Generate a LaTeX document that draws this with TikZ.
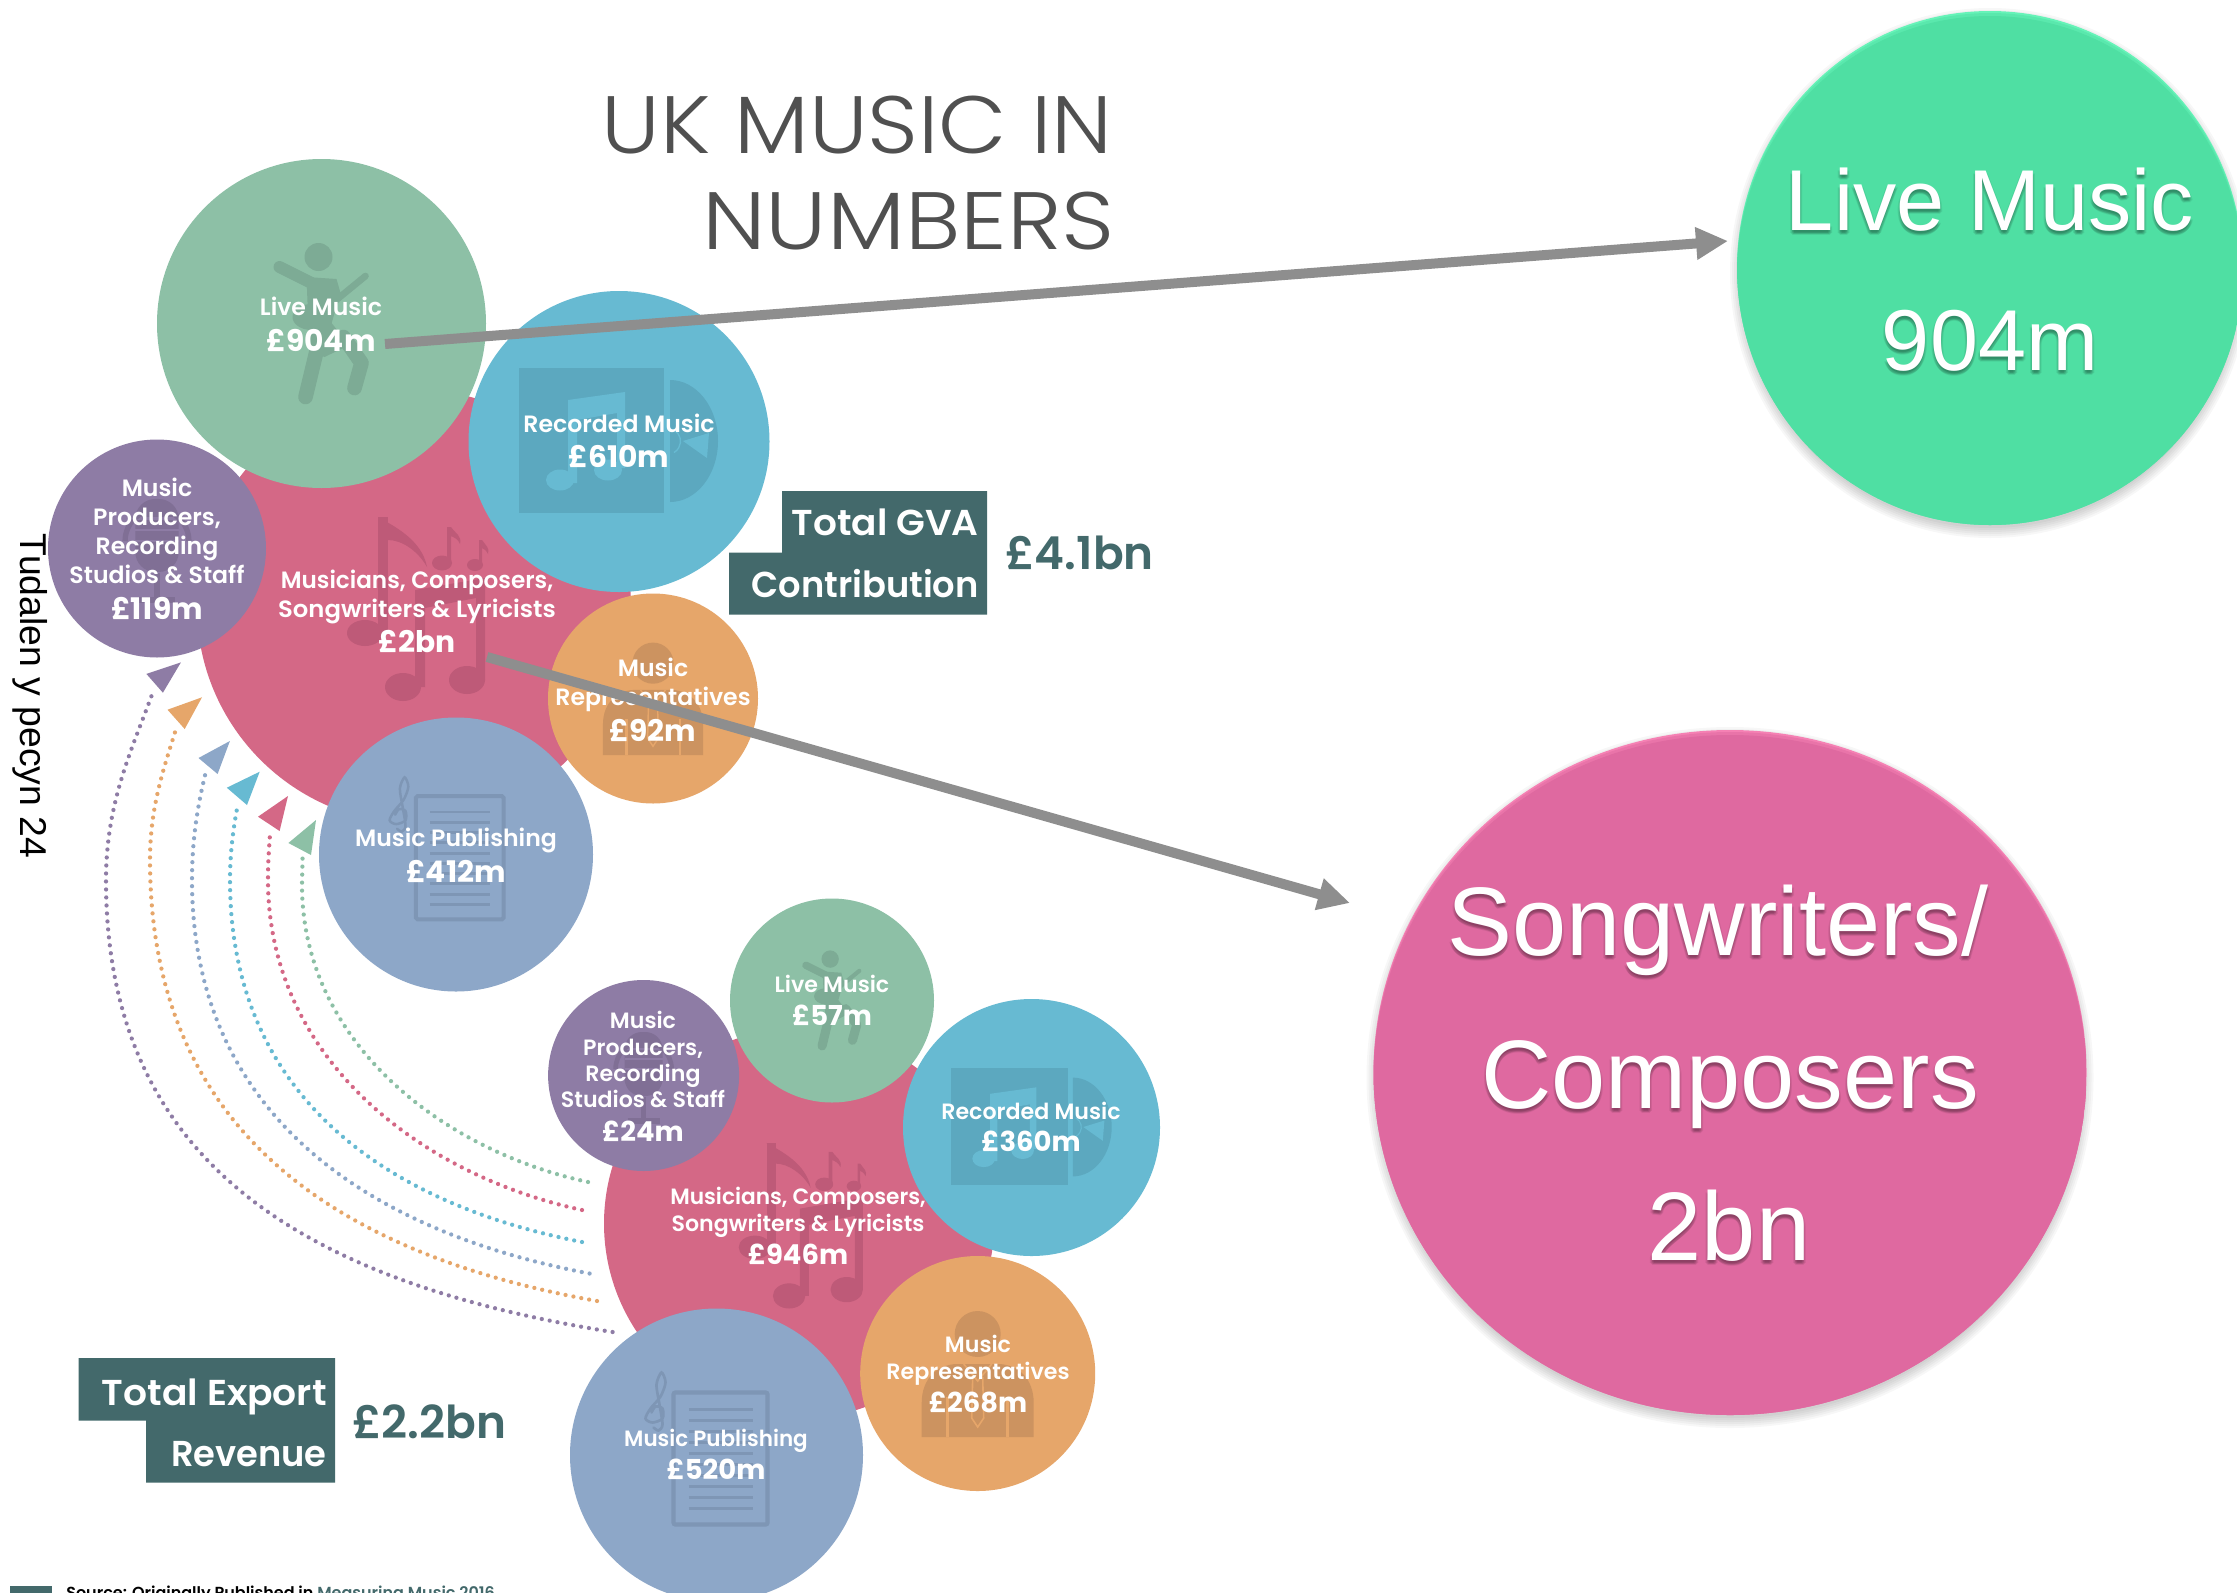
\documentclass[tikz,border=0pt]{standalone}
\usepackage{fontspec}
\usetikzlibrary{arrows.meta,shapes.geometric}
\setmainfont{Poppins}
\newfontfamily\arial{Liberation Sans}
\newfontfamily\titlef{Poppins Light}
\newfontfamily\medf{Poppins Medium}
\newfontfamily\semif{Poppins SemiBold}
\newfontfamily\boldf{Poppins Bold}
\newcommand{\fs}[1]{\fontsize{#1}{#1}\selectfont}
\definecolor{cgreen}{HTML}{8DC0A6}\definecolor{cgreenD}{HTML}{7DAB95}
\definecolor{cblue}{HTML}{67BAD2}\definecolor{cblueD}{HTML}{5CA8BF}
\definecolor{cpink}{HTML}{D46886}\definecolor{cpinkD}{HTML}{BE5A78}
\definecolor{cpurp}{HTML}{8E7CA5}\definecolor{cpurpD}{HTML}{806F95}
\definecolor{corng}{HTML}{E6A66A}\definecolor{corngD}{HTML}{CC9360}
\definecolor{cpub}{HTML}{8DA7C8}\definecolor{cpubD}{HTML}{7E96B5}
\definecolor{cteal}{HTML}{43696B}
\definecolor{cbgreen}{HTML}{4FDFA3}\definecolor{cbgreenL}{HTML}{66F3B8}
\definecolor{cbpink}{HTML}{DF69A0}\definecolor{cbpinkL}{HTML}{F581B4}
\definecolor{cgrayA}{HTML}{8E8E8E}
\definecolor{ctitle}{HTML}{505050}
\tikzset{
 bub/.style n args={2}{circle,fill=#1,minimum size=2*#2*0.75pt,inner sep=0pt},
 lab/.style={anchor=base,text=white,inner sep=0pt,align=center},
 regA/.style={lab,font=\semif\fs{17.7}},
 boldA/.style={lab,font=\boldf\fs{22.3}},
 regB/.style={lab,font=\semif\fs{16.6}},
 boldB/.style={lab,font=\boldf\fs{20.6}},
 boxlab/.style={anchor=base east,text=white,inner sep=0pt,font=\semif\fs{27}},
 sumlab/.style={anchor=base west,text=cteal,inner sep=0pt,font=\semif\fs{34}},
 titlelab/.style={anchor=base east,text=ctitle,inner sep=0pt,font=\titlef\fs{61}},
 bigarrow/.style={draw=cgrayA,line width=7.5pt,-{Triangle[length=24pt,width=23pt]}},
 dots/.style={line width=3.2pt,line cap=round,dash pattern=on 0pt off 6pt},
}
% person with guitar
\newcommand{\iconPerson}[4]{\begin{scope}[shift={(#1,#2)},scale=#3,line cap=round,line join=round,draw=#4,fill=#4]
 \fill (-3,-66) circle[radius=14];
 \draw[line width=#3*9pt] (-42,-56) -- (-10,-40);
 \fill (-15,-46) -- (15,-44) -- (19,-30) -- (9,4) -- (-13,4) -- cycle;
 \fill (-13,0) -- (10,0) -- (28,22) -- (3,34) -- (-10,28) -- cycle;
 \draw[line width=#3*11pt] (-3,20) -- (-16,74);
 \draw[line width=#3*11pt] (22,14) -- (40,40) -- (33,65);
 \draw[line width=#3*5pt] (-6,-6) -- (44,-47);
 \fill (-10,-6) ellipse[x radius=19,y radius=13];
\end{scope}}
% album and disc
\newcommand{\iconAlbum}[5]{\begin{scope}[shift={(#1,#2)},scale=#3]
 \fill[#4] (-100,-73) rectangle (45,72);
 \fill[#4] (51,-61) arc[start angle=-90,end angle=90,x radius=48,y radius=61] -- cycle;
 \fill[#5] (-51,-41) -- (6,-49) -- (6,27) -- (-2,27) -- (-2,-28) -- (-42,-21) -- (-42,42) -- (-51,42) -- cycle;
 \fill[#5] (-59,39) ellipse[x radius=14,y radius=10.5];
 \fill[#5] (-11,29) ellipse[x radius=14,y radius=10.5];
 \fill[#5] (64,0) -- (90,-8) -- (88,17) -- cycle;
 \draw[#5,line width=#3*1pt] (55,-11) arc[start angle=-60,end angle=60,radius=13];
\end{scope}}
% notes
\newcommand{\iconNotes}[4]{\begin{scope}[shift={(#1,#2)},scale=#3,fill=#4]
 \fill (-49,27) ellipse[x radius=18,y radius=13];
 \fill (-36,-89) rectangle (-26,27);
 \fill (-36,-89) .. controls (-20,-80) and (8,-66) .. (13,-39) .. controls (4,-55) and (-12,-66) .. (-26,-66) -- cycle;
 \fill (-11,81) ellipse[x radius=18,y radius=14];
 \fill (53,74) ellipse[x radius=18,y radius=14];
 \fill (1,-16) -- (71,-28) -- (71,74) -- (62,74) -- (62,-8) -- (11,2) -- (11,81) -- (1,81) -- cycle;
 \fill (28,-43) ellipse[x radius=10,y radius=7.5];
 \fill (33,-79) -- (37,-79) .. controls (42,-72) and (48,-70) .. (46,-62) .. controls (44,-67) and (41,-68) .. (37,-70) -- (37,-43) -- (33,-43) -- cycle;
 \fill (61,-41) ellipse[x radius=8,y radius=6];
 \fill (65,-66) -- (68,-66) .. controls (72,-60) and (76,-58) .. (74,-52) .. controls (72,-56) and (70,-57) .. (68,-58) -- (68,-41) -- (65,-41) -- cycle;
\end{scope}}
% microphone
\newcommand{\iconMic}[5]{\begin{scope}[shift={(#1,#2)},scale=#3]
 \fill[#4,rounded corners=#3*13pt] (-19,-43) rectangle (19,21);
 \foreach \yy in {-26,-16,-6}{\draw[#5,line width=#3*1.5pt] (-19,\yy) -- (19,\yy);}
 \draw[#4,line width=#3*3.5pt] (-28,-6) arc[start angle=180,end angle=360,radius=28];
 \draw[#4,line width=#3*4pt] (0,22) -- (0,45) (-16,46) -- (16,46);
\end{scope}}
% representative
\newcommand{\iconRep}[5]{\begin{scope}[shift={(#1,#2)},scale=#3]
 \fill[#4] (0,-39) circle[radius=23];
 \fill[#4] (-56,64) -- (-56,30) .. controls (-56,5) and (-40,-8) .. (-22,-9) -- (22,-9) .. controls (40,-8) and (56,5) .. (56,30) -- (56,64) -- cycle;
 \draw[#5,line width=#3*2.2pt] (-30,24) -- (-30,64) (30,24) -- (30,64);
 \draw[#5,line width=#3*1.2pt] (-14,-9) -- (0,8) -- (14,-9);
 \draw[#5,line width=#3*1.2pt] (-5,4) -- (-6,45) -- (0,54) -- (6,45) -- (5,4);
\end{scope}}
% sheet with clef
\newcommand{\iconSheet}[4]{\begin{scope}[shift={(#1,#2)},scale=#3]
 \draw[#4,line width=#3*3.2pt,rounded corners=#3*1.5pt] (-43,-62) rectangle (51,70);
 \foreach \yy in {-45,-34,-23,-12,-1,10,21,32,43,54}{\draw[#4,line width=#3*2.3pt] (-28,\yy) -- (36,\yy);}
 \draw[#4,line width=#3*2pt,line cap=round] plot[smooth] coordinates {(-63,-27) (-58,-24) (-54,-30) (-57,-50) (-60,-70) (-55,-82) (-51,-72) (-56,-58) (-66,-46) (-71,-36) (-64,-32) (-54,-36) (-54,-46) (-61,-48) (-65,-42)};
\end{scope}}
% big bubble with soft shadow and light rim
\newcommand{\bigBubble}[7]{%
 \foreach \ii in {0,2,4,6,8,10}{\fill[black,opacity=.03] (#2,#3+5) ellipse[x radius=#4+\ii-3,y radius=#5+\ii-2];}
 \node[ellipse,fill=#7,minimum width=2*#4*0.75pt,minimum height=2*#5*0.75pt,inner sep=0pt] (#1) at (#2,#3) {};
 \begin{scope}
 \clip (#2,#3) ellipse[x radius=#4,y radius=#5];
 \fill[#6,opacity=.5] (#2,#3+2) ellipse[x radius=#4,y radius=#5];
 \fill[#6] (#2,#3+5) ellipse[x radius=#4,y radius=#5];
 \end{scope}}
% big white text with soft shadow
\newcommand{\bigText}[5]{%
 \foreach \ox/\oy in {-1/4,1/4,0/2,0/5,-2/3,2/3}{\node[anchor=base,inner sep=0pt,text=black,text opacity=.07,font=\arial\fs{#4}] at (#2+\ox,#3+\oy) {#5};}
 \node[anchor=base,inner sep=0pt,text=white,font=\arial\fs{#4}] (#1) at (#2,#3) {#5};}
\begin{document}
\begin{tikzpicture}[x=0.75pt,y=-0.75pt]
\useasboundingbox (0,0) rectangle (2237,1592);
\clip (0,0) rectangle (2237,1592);
\fill[white] (0,0) rectangle (2237,1592);
% title
\node[titlelab] (t1) at (1113,153) {\scalebox{1.09}[1]{UK MUSIC IN}};
\node[titlelab] (t2) at (1115,249) {\scalebox{1.14}[1]{NUMBERS}};
% side text
\node[rotate=-90,inner sep=0pt,text=black,font=\arial\fs{28}] (side) at (30,696) {Tudalen y pecyn 24};
% upper group
\node[bub={cpink}{217}] (pA) at (414,606.5) {};
\iconNotes{414}{606}{1}{cpinkD}
\node[bub={cgreen}{164.5}] (lA) at (321.5,323.5) {};
\iconPerson{321.5}{323}{1}{cgreenD}
\node[bub={cblue}{150.5}] (rA) at (619,441.5) {};
\iconAlbum{619}{441}{1}{cblueD}{cblue}
\node[bub={cpurp}{109}] (mA) at (157,548.5) {};
\iconMic{157}{548}{1.14}{cpurpD}{cpurp}
\node[bub={corng}{105}] (oA) at (653,698.5) {};
\iconRep{653}{698}{.894}{corngD}{corng}
\node[bub={cpub}{137}] (bA) at (456,854.5) {};
\iconSheet{456}{854}{.935}{cpubD}
% upper labels
\node[regA] (l1) at (321,315) {Live Music};
\node[boldA] (l2) at (321,351) {£904m};
\node[regA] (r1) at (619,432) {Recorded Music};
\node[boldA] (r2) at (619,467.5) {£610m};
\node[regA] (p1) at (417,588) {\scalebox{.98}[1]{Musicians, Composers,}};
\node[regA] (p2) at (417,617) {\scalebox{1.03}[1]{Songwriters \& Lyricists}};
\node[boldA] (p3) at (417,652) {£2bn};
\node[regA] (m1) at (157,496) {Music};
\node[regA] (m2) at (157,525) {Producers,};
\node[regA] (m3) at (157,554) {Recording};
\node[regA] (m4) at (157,583) {Studios \& Staff};
\node[boldA] (m5) at (157,619) {£119m};
\node[regA] (o1) at (653,676) {Music};
\node[regA] (o2) at (653,705) {Representatives};
\node[boldA] (o3) at (653,741) {£92m};
\node[regA] (b1) at (456,846) {Music Publishing};
\node[boldA] (b2) at (456,882) {£412m};
% GVA box
\path[fill=cteal] (782,491) -- (987,491) -- (987,614.5) -- (729,614.5) -- (729,552.5) -- (782,552.5) -- cycle;
\node[boxlab] (g1) at (979,535) {\scalebox{1.04}[1]{Total GVA}};
\node[boxlab] (g2) at (979,597) {\scalebox{.98}[1]{Contribution}};
\node[sumlab] (g3) at (1005,569.5) {£4.1bn};
% dotted arcs
\coordinate (gs) at (588,1182); \coordinate (gm) at (302,885); \coordinate (ge) at (302.6,856);
\coordinate (ps) at (582,1210); \coordinate (pm) at (268,880); \coordinate (pe) at (270,834);
\coordinate (cs) at (582,1242); \coordinate (cm) at (230,880); \coordinate (ce) at (237.5,806);
\coordinate (vs) at (589.6,1273.5); \coordinate (vm) at (192,880); \coordinate (ve) at (205.8,772);
\coordinate (os) at (597,1301); \coordinate (om) at (150,860); \coordinate (oe) at (176.3,728);
\coordinate (us) at (612.6,1332); \coordinate (um) at (106,880); \coordinate (ue) at (153.3,691);
\draw[dots,cgreen] (gs) .. controls (440,1150) and (302,1040) .. (gm) -- (ge);
\draw[dots,cpink] (ps) .. controls (416,1174) and (268,1055) .. (pm) .. controls (268,860) and (269,850) .. (pe);
\draw[dots,cblue] (cs) .. controls (378,1202) and (230,1090) .. (cm) .. controls (230,850) and (234,825) .. (ce);
\draw[dots,cpub] (vs) .. controls (359,1230) and (192,1108) .. (vm) .. controls (192,835) and (199,800) .. (ve);
\draw[dots,corng] (os) .. controls (329,1253) and (150,1125) .. (om) .. controls (150,805) and (165,765) .. (oe);
\draw[dots,cpurp] (us) .. controls (300,1282) and (106,1160) .. (um) .. controls (106,800) and (134,745) .. (ue);
\fill[cgreen] (316,820) -- (288.4,843) -- (311,855) -- cycle;
\fill[cpink] (288,796) -- (258,816.7) -- (279.6,831) -- cycle;
\fill[cblue] (259.7,771.7) -- (226.8,787.7) -- (247,805) -- cycle;
\fill[cpub] (229.9,741) -- (198.5,758) -- (217.6,774) -- cycle;
\fill[corng] (202,697.3) -- (167.5,709.7) -- (184.7,729) -- cycle;
\fill[cpurp] (180.9,662.4) -- (146.4,673.9) -- (162.9,692.7) -- cycle;
% lower group
\node[bub={cpink}{195}] (pB) at (799,1223.5) {};
\iconNotes{799}{1223}{.9}{cpinkD}
\node[bub={cgreen}{102}] (lB) at (832,1000.5) {};
\iconPerson{832}{1000}{.62}{cgreenD}
\node[bub={cblue}{128.5}] (rB) at (1031.5,1127.5) {};
\iconAlbum{1031.5}{1127}{.81}{cblueD}{cblue}
\node[bub={cpurp}{95.5}] (mB) at (643.6,1075.5) {};
\iconMic{643.6}{1075}{1}{cpurpD}{cpurp}
\node[bub={corng}{117.5}] (oB) at (977.7,1373.5) {};
\iconRep{977.7}{1373}{1}{corngD}{corng}
\node[bub={cpub}{146.5}] (bB) at (716.5,1455) {};
\iconSheet{716.5}{1454.5}{1}{cpubD}
\node[regB] (l3) at (832,992.6) {Live Music};
\node[boldB] (l4) at (832,1025) {£57m};
\node[regB] (r3) at (1031,1119) {Recorded Music};
\node[boldB] (r4) at (1031,1151.5) {£360m};
\node[regB] (p4) at (798,1204) {\scalebox{.98}[1]{Musicians, Composers,}};
\node[regB] (p5) at (798,1231) {Songwriters \& Lyricists};
\node[boldB] (p6) at (798,1264) {£946m};
\node[regB] (m6) at (643,1028.5) {Music};
\node[regB] (m7) at (643,1055) {Producers,};
\node[regB] (m8) at (643,1081) {Recording};
\node[regB] (m9) at (643,1107) {Studios \& Staff};
\node[boldB] (m10) at (643,1141) {£24m};
\node[regB] (o4) at (978,1352) {Music};
\node[regB] (o5) at (978,1379.5) {Representatives};
\node[boldB] (o6) at (978,1412.5) {£268m};
\node[regB] (b3) at (716,1446) {\scalebox{.97}[1]{Music Publishing}};
\node[boldB] (b4) at (716,1479.5) {£520m};
% export box
\path[fill=cteal] (78.6,1358) -- (335,1358) -- (335,1482.5) -- (146,1482.5) -- (146,1420.5) -- (78.6,1420.5) -- cycle;
\node[boxlab] (e1) at (327,1405) {\scalebox{1.045}[1]{Total Export}};
\node[boxlab] (e2) at (327,1466) {\scalebox{.98}[1]{Revenue}};
\node[sumlab] (e3) at (352,1438) {£2.2bn};
% source
\path[fill=cteal] (10,1586) rectangle (52,1600);
\node[anchor=base west,inner sep=0pt,font=\semif\fs{12},text=black] (src) at (66,1598.5) {Source: Originally Published in \textcolor{cteal}{Measuring Music 2016}};
% big bubbles
\bigBubble{bigL}{1990}{268}{253}{257}{cbgreen}{cbgreenL}
\bigText{bl1}{1990}{230}{64.8}{Live Music}
\bigText{bl2}{1990}{370}{64.8}{904m}
\bigBubble{bigP}{1730}{1072.5}{356.5}{342.5}{cbpink}{cbpinkL}
\bigText{bp1}{1718}{955}{73}{Songwriters/}
\bigText{bp2}{1730}{1108.5}{73}{Composers}
\bigText{bp3}{1729}{1260.5}{73}{2bn}
% arrows
\coordinate (a1s) at (385,344); \coordinate (a1e) at (1728,241);
\coordinate (a2s) at (487,657); \coordinate (a2e) at (1350,903);
\draw[bigarrow] (a1s) -- (a1e);
\draw[bigarrow] (a2s) -- (a2e);
\end{tikzpicture}
\end{document}
